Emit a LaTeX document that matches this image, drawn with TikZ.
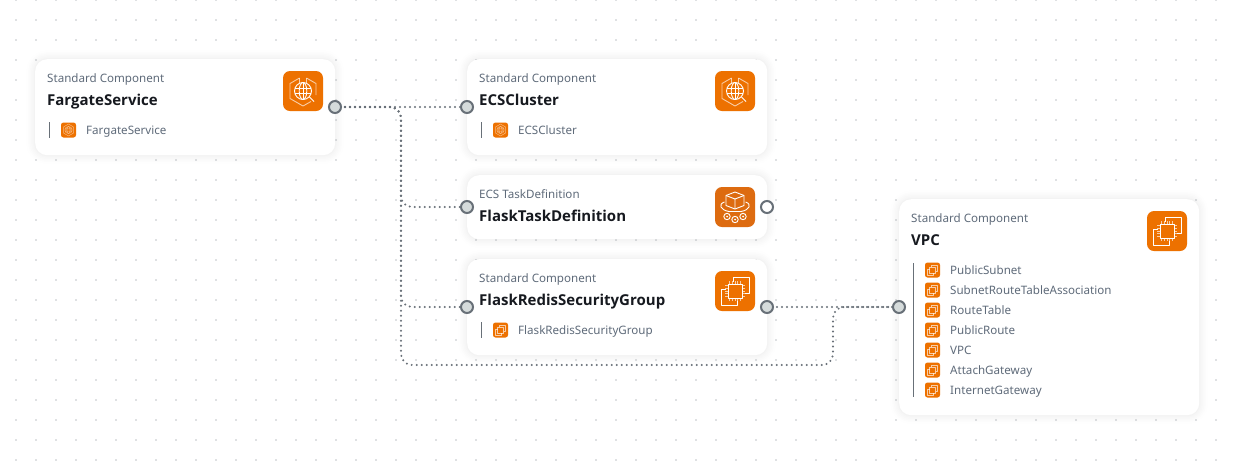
\documentclass[tikz,border=0pt]{standalone}
\usepackage{fontspec}
\setmainfont{Noto Sans}
\newfontfamily\ttlfont{Open Sans}
\pgfdeclarelayer{connlayer}
\pgfdeclarelayer{frontlayer}
\pgfsetlayers{main,connlayer,frontlayer}
\definecolor{orangeA}{HTML}{ED7100}
\definecolor{orangeB}{HTML}{DD6B10}
\definecolor{portline}{HTML}{687078}
\definecolor{portfill}{HTML}{D5DBDB}
\definecolor{subtxt}{HTML}{5F6B7A}
\definecolor{titletxt}{HTML}{16191F}
\definecolor{griddot}{HTML}{DFE1E3}
\tikzset{
  cardbox/.style={anchor=north west,inner sep=0pt,minimum width=300pt,fill=white,rounded corners=12pt,
    preaction={draw=black,draw opacity=.005,line width=18pt,yshift=-1pt},
    preaction={draw=black,draw opacity=.006,line width=14pt,yshift=-1pt},
    preaction={draw=black,draw opacity=.007,line width=11pt,yshift=-1pt},
    preaction={draw=black,draw opacity=.008,line width=8pt,yshift=-1pt},
    preaction={draw=black,draw opacity=.009,line width=5pt,yshift=-1pt},
    preaction={draw=black,draw opacity=.010,line width=2.5pt,yshift=-1pt}},
  subtitle/.style={anchor=base west,inner sep=0pt,text=subtxt,font=\fontsize{11.6}{14}\selectfont},
  cardtitle/.style={anchor=base west,inner sep=0pt,text=titletxt,font=\ttlfont\fontsize{15}{18}\selectfont\bfseries},
  listtext/.style={anchor=base west,inner sep=0pt,text=subtxt,font=\fontsize{11.6}{14}\selectfont},
  port/.style={circle,draw=portline,line width=2pt,fill=portfill,minimum size=12pt,inner sep=0pt},
  portopen/.style={port,fill=white},
  conn/.style={draw=portline,line width=2.2pt,line cap=round,dash pattern=on 0pt off 5pt,rounded corners=11pt},
  glyph/.style={draw=white,line width=.9pt,line join=round},
  glyphsoft/.style={draw=white,draw opacity=.65,line width=.9pt,line join=round},
  barline/.style={draw=portline,line width=1pt},
}
% big icons; (x,y) is the icon's centre
\newcommand{\icoglobe}[2]{\begin{scope}[shift={(#1,#2)}]
  \fill[orangeA,rounded corners=7pt] (-20,-20) rectangle (20,20);
  \draw[glyphsoft] (-3.5,-13) -- (-13,-7.5) -- (-13,7.5) -- (0,15) -- (8,10.5);
  \draw[glyphsoft] (3.5,-13) -- (13,-7.5) -- (13,4);
  \draw[glyphsoft] (-3.5,-8.5) -- (-3.5,-13) (3.5,-8.5) -- (3.5,-13);
  \draw[glyph] (0,0) circle (8.5);
  \draw[glyph] (0,0) ellipse (3.8 and 8.5);
  \draw[glyph] (-8.2,-2.8) -- (8.2,-2.8) (-8.2,2.8) -- (8.2,2.8) (0,-8.5) -- (0,8.5);
  \draw[glyph] (6.5,6) -- (11,10.5);
\end{scope}}
\newcommand{\icotask}[2]{\begin{scope}[shift={(#1,#2)}]
  \fill[orangeB,rounded corners=7pt] (-20,-20) rectangle (20,20);
  \draw[glyph] (0,-15) -- (9,-11.5) -- (9,-1.5) -- (0,2) -- (-9,-1.5) -- (-9,-11.5) -- cycle;
  \draw[glyph] (-9,-11.5) -- (0,-8) -- (9,-11.5) (0,-8) -- (0,2);
  \draw[glyph] (-10.5,-5) .. controls (-17,-3) and (-15,3) .. (-6,4.5) -- (6,4.5) .. controls (15,3) and (17,-3) .. (10.5,-5);
  \draw[glyph] (-8,9.5) circle (3.2) (8,9.5) circle (3.2) (0,12.5) circle (3.2);
  \fill[white] (-8,9.5) circle (1) (8,9.5) circle (1) (0,12.5) circle (1);
\end{scope}}
\newcommand{\icochip}[2]{\begin{scope}[shift={(#1,#2)}]
  \fill[orangeA,rounded corners=7pt] (-20,-20) rectangle (20,20);
  \draw[glyph] (-2,-9.5) -- (-2,-14) -- (14,-14) -- (14,2) -- (9.5,2);
  \draw[glyph] (-9.5,-2) -- (-14,-2) -- (-14,14) -- (2,14) -- (2,9.5);
  \draw[glyph] (-7,-7) rectangle (7,7);
  \foreach \t in {-5.5,-2.75,0,2.75,5.5}{
    \draw[glyphsoft] (\t,-10) -- (\t,-7) (\t,7) -- (\t,10) (-10,\t) -- (-7,\t) (7,\t) -- (10,\t);}
\end{scope}}
% small icons, centre at (x,y)
\newcommand{\smallglobe}[2]{\begin{scope}[shift={(#1,#2)}]
  \fill[orangeA,rounded corners=2.5pt] (-7.5,-7.5) rectangle (7.5,7.5);
  \draw[glyphsoft,draw opacity=.5,line width=.5pt] (0,-6) -- (5,-3) -- (5,3) -- (0,6) -- (-5,3) -- (-5,-3) -- cycle;
  \draw[glyphsoft,draw opacity=.5,line width=.5pt] (0,0) circle (3.6) (0,0) ellipse (1.6 and 3.6) (-3.6,-1.2) -- (3.6,-1.2) (-3.6,1.2) -- (3.6,1.2);
\end{scope}}
\newcommand{\smallchip}[2]{\begin{scope}[shift={(#1,#2)}]
  \fill[orangeA,rounded corners=2.5pt] (-7.5,-7.5) rectangle (7.5,7.5);
  \draw[glyphsoft,line width=.6pt] (-1,-3) -- (-1,-5) -- (5,-5) -- (5,1) -- (3,1);
  \draw[glyphsoft,line width=.6pt] (-3,-1) -- (-5,-1) -- (-5,5) -- (1,5) -- (1,3);
  \draw[glyphsoft,line width=.6pt] (-3,-3) rectangle (3,3);
\end{scope}}
% \mkcard{name}{x}{y}{height}{subtitle}{title}
\newcommand{\mkcard}[6]{%
  \node[cardbox,minimum height=#4pt] (#1) at (#2,#3) {};
  \path (#2,#3) ++(12,23) node[subtitle] (#1sub) {#5};
  \path (#2,#3) ++(12,46) node[cardtitle] (#1title) {#6};
}
\begin{document}
\begin{tikzpicture}[x=1pt,y=-1pt]
\useasboundingbox (0,0) rectangle (1234,467);
\fill[white] (0,0) rectangle (1234,467);
% dotted canvas
\foreach \i in {0,...,60}{\foreach \j in {0,...,23}{
  \fill[griddot] ({16+20*\i-1},{20*\j-1}) rectangle ++(2,2);}}
% cards
\mkcard{fs}{35}{59}{96}{Standard Component}{FargateService}
\mkcard{ecs}{467}{59}{96}{Standard Component}{ECSCluster}
\mkcard{td}{467}{175}{64}{ECS TaskDefinition}{FlaskTaskDefinition}
\mkcard{sg}{467}{259}{96}{Standard Component}{FlaskRedisSecurityGroup}
\mkcard{vpc}{899}{199}{216}{Standard Component}{VPC}
% icons
\icoglobe{303}{91}
\icoglobe{735}{91}
\icotask{735}{207}
\icochip{735}{291}
\icochip{1167}{231}
% list rows
\draw[barline] (49.5,122) -- (49.5,138);
\smallglobe{68.5}{130}
\node[listtext] (fsrow) at (86,134) {FargateService};
\draw[barline] (481.5,122) -- (481.5,138);
\smallglobe{500.5}{130}
\node[listtext] (ecsrow) at (518,134) {ECSCluster};
\draw[barline] (481.5,322) -- (481.5,338);
\smallchip{500.5}{330}
\node[listtext] (sgrow) at (518,334) {FlaskRedisSecurityGroup};
\draw[barline] (913.5,263) -- (913.5,397);
\foreach \y/\t/\n in {270/PublicSubnet/a,290/SubnetRouteTableAssociation/b,310/RouteTable/c,330/PublicRoute/d,350/VPC/e,370/AttachGateway/f,390/InternetGateway/g}{
  \smallchip{932.5}{\y}
  \node[listtext] (vpcrow\n) at (950,\y+4) {\t};
}
% ports
\begin{pgfonlayer}{frontlayer}
\node[port] (pfs) at (335,107) {};
\node[port] (pecs) at (467,107) {};
\node[port] (ptd) at (467,207) {};
\node[portopen] (ptdout) at (767,207) {};
\node[port] (psg) at (467,307) {};
\node[port] (psgout) at (767,307) {};
\node[port] (pvpc) at (899,307) {};
\end{pgfonlayer}
\coordinate (busA) at (401,365);
\coordinate (busB) at (833,365);
% connectors
\begin{pgfonlayer}{connlayer}
\draw[conn] (pfs.center) -- (pecs.center);
\draw[conn] (pfs.center) -- (pfs.center -| busA) -- (busA |- ptd.center) -- (ptd.center);
\draw[conn] (pfs.center) -- (pfs.center -| busA) -- (busA |- psg.center) -- (psg.center);
\draw[conn] (pfs.center) -- (pfs.center -| busA) -- (busA) -- (busB) -- (busB |- pvpc.center) -- (pvpc.center);
\draw[conn] (psgout.center) -- (pvpc.center);
\end{pgfonlayer}
\end{tikzpicture}
\end{document}
